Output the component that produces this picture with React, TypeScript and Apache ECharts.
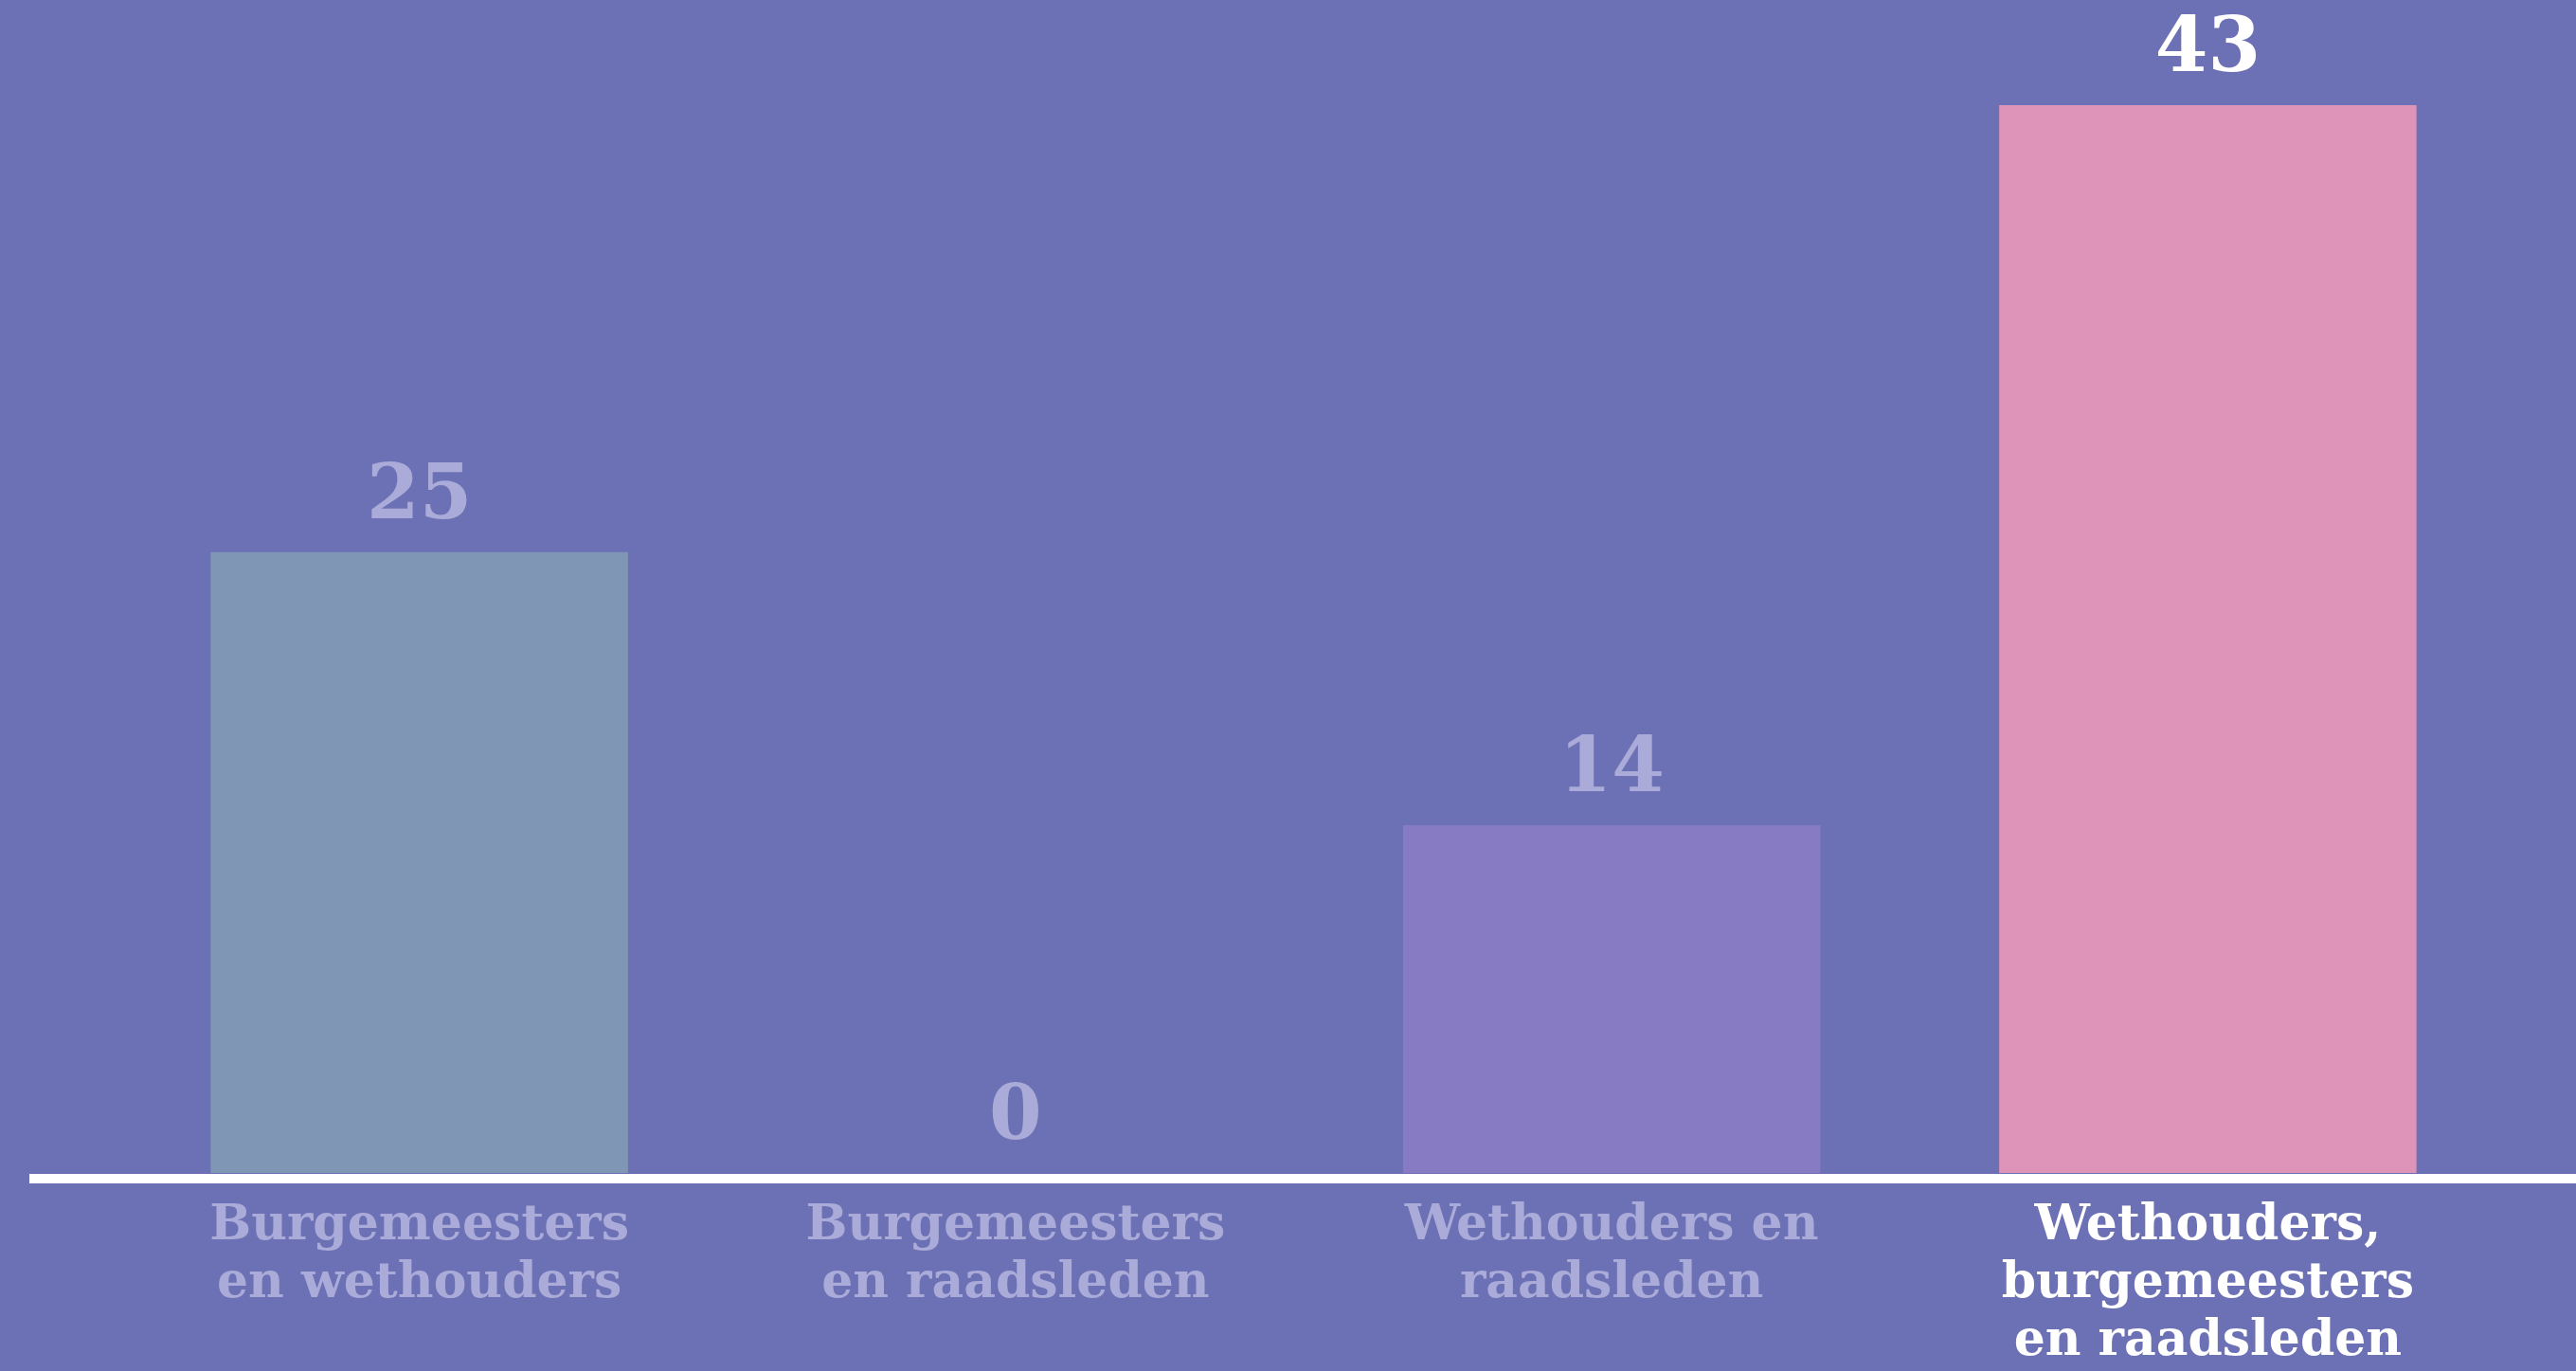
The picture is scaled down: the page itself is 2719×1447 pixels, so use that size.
import React, { useEffect, useRef } from "react";
import * as echarts from "echarts";

const categories = [
  "Burgemeesters\nen wethouders",
  "Burgemeesters\nen raadsleden",
  "Wethouders en\nraadsleden",
  "Wethouders,\nburgemeesters\nen raadsleden",
];
const values = [25, 0, 14, 43];
const barColors = ["#7f97b5", "#7f97b5", "#877bc3", "#de93b8"];
const labelColors = ["#aaabd8", "#aaabd8", "#aaabd8", "#ffffff"];

const BG = "#6c70b4";
const FONT = "'DejaVu Serif', serif";

export default function App() {
  const ref = useRef<HTMLDivElement>(null);
  useEffect(() => {
    if (!ref.current) return;
    const chart = echarts.init(ref.current, undefined, { renderer: "svg" });
    chart.setOption({
      animation: false,
      backgroundColor: BG,
      grid: { left: 128, right: 74, top: 111, bottom: 209, containLabel: false },
      xAxis: {
        type: "category",
        data: categories,
        axisLine: { show: false },
        axisTick: { show: false },
        axisLabel: {
          interval: 0,
          margin: 21,
          fontFamily: FONT,
          fontWeight: "bold",
          fontSize: 52,
          lineHeight: 61,
          color: (_v: string, i: number) => labelColors[i],
        },
      },
      yAxis: {
        type: "value",
        min: 0,
        max: 43,
        show: false,
        splitLine: { show: false },
      },
      series: [
        {
          type: "bar",
          barCategoryGap: "30%",
          data: values.map((v, i) => ({
            value: v,
            itemStyle: { color: barColors[i] },
            label: { color: labelColors[i] },
          })),
          label: {
            show: true,
            position: "top",
            distance: 24,
            fontFamily: FONT,
            fontWeight: "bold",
            fontSize: 80,
          },
        },
      ],
    });
    const y0 = chart.convertToPixel({ yAxisIndex: 0 }, 0) as number;
    chart.setOption({
      graphic: [
        {
          type: "line",
          shape: { x1: 31, y1: y0 + 6, x2: 2719, y2: y0 + 6 },
          style: { stroke: "#ffffff", lineWidth: 10 },
          z: 10,
        },
      ],
    });
    return () => chart.dispose();
  }, []);
  return (
    <div
      ref={ref}
      style={{ position: "absolute", left: 0, top: 0, width: 2719, height: 1447 }}
    />
  );
}
